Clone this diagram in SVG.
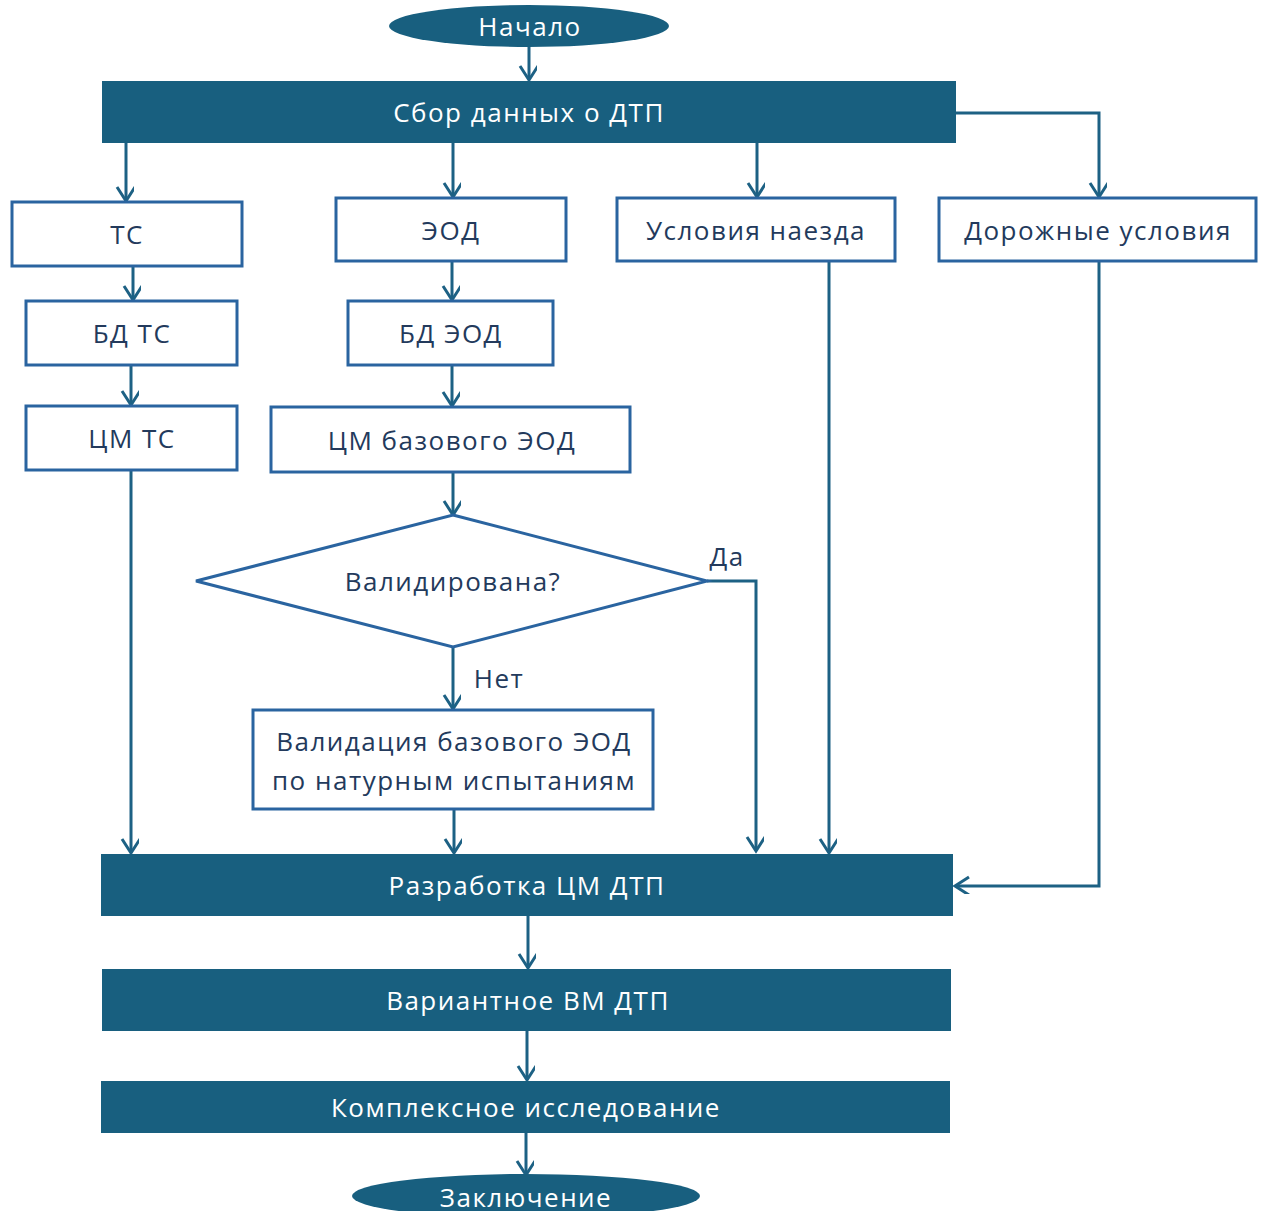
<svg xmlns="http://www.w3.org/2000/svg" width="1262" height="1211" viewBox="0 0 1262 1211">
<defs>
<marker id="ah" markerUnits="userSpaceOnUse" markerWidth="30" markerHeight="30" refX="14" refY="8" orient="auto" viewBox="0 0 30 30">
<path d="M0,-1 L14,8 L0,17" fill="none" stroke="#1d6184" stroke-width="3" transform="translate(1,0)"/>
</marker>
<style>
.dark{fill:#185f7f}
.box{fill:#fff;stroke:#2a64a0;stroke-width:3}
.wt{fill:#fff;font-family:"Open Sans","Noto Sans",sans-serif;font-size:26px;letter-spacing:1.5px;text-anchor:middle;dominant-baseline:central}
.bt{fill:#233a5c;font-family:"Open Sans","Noto Sans",sans-serif;font-size:26px;letter-spacing:1.5px;text-anchor:middle;dominant-baseline:central}
.ln{fill:none;stroke:#1d6184;stroke-width:3;marker-end:url(#ah)}
</style>
</defs>
<rect width="1262" height="1211" fill="#fff"/>
<g id="connectors">
<path class="ln" d="M529,47 V79"/>
<path class="ln" d="M126,143 V200"/>
<path class="ln" d="M453,143 V196"/>
<path class="ln" d="M757,143 V196"/>
<path class="ln" d="M956,113 H1099 V196"/>
<path class="ln" d="M133,266 V299"/>
<path class="ln" d="M131,365 V404"/>
<path class="ln" d="M131,470 V852"/>
<path class="ln" d="M452,261 V299"/>
<path class="ln" d="M452,365 V405"/>
<path class="ln" d="M453,472 V514"/>
<path class="ln" d="M707,581 H756 V850"/>
<path class="ln" d="M453,647 V708"/>
<path class="ln" d="M454,809 V852"/>
<path class="ln" d="M829,261 V852"/>
<path class="ln" d="M1099,261 V886 H956"/>
<path class="ln" d="M528,916 V967"/>
<path class="ln" d="M527,1031 V1079"/>
<path class="ln" d="M526,1133 V1174"/>
</g>
<g id="start"><ellipse class="dark" cx="529" cy="26" rx="140" ry="21"/><text class="wt" x="530" y="26">Начало</text></g>
<g id="collect"><rect class="dark" x="102" y="81" width="854" height="62"/><text class="wt" x="529" y="112">Сбор данных о ДТП</text></g>
<g id="ts"><rect class="box" x="12" y="202" width="230" height="64"/><text class="bt" x="127" y="234">ТС</text></g>
<g id="eod"><rect class="box" x="336" y="198" width="230" height="63"/><text class="bt" x="451" y="230">ЭОД</text></g>
<g id="usl"><rect class="box" x="617" y="198" width="278" height="63"/><text class="bt" x="756" y="230">Условия наезда</text></g>
<g id="road"><rect class="box" x="939" y="198" width="317" height="63"/><text class="bt" x="1098" y="230">Дорожные условия</text></g>
<g id="bdts"><rect class="box" x="26" y="301" width="211" height="64"/><text class="bt" x="132" y="333">БД ТС</text></g>
<g id="cmts"><rect class="box" x="26" y="406" width="211" height="64"/><text class="bt" x="132" y="438">ЦМ ТС</text></g>
<g id="bdeod"><rect class="box" x="348" y="301" width="205" height="64"/><text class="bt" x="451" y="333">БД ЭОД</text></g>
<g id="cmeod"><rect class="box" x="271" y="407" width="359" height="65"/><text class="bt" x="452" y="440">ЦМ базового ЭОД</text></g>
<g id="valid"><polygon class="box" points="453,515 707,581 453,647 196,581"/><text class="bt" x="453" y="581">Валидирована?</text></g>
<text class="bt" x="727" y="556">Да</text>
<text class="bt" x="499" y="678">Нет</text>
<g id="validation"><rect class="box" x="253" y="710" width="400" height="99"/><text class="bt" x="454" y="741">Валидация базового ЭОД</text><text class="bt" x="454" y="780">по натурным испытаниям</text></g>
<g id="dev"><rect class="dark" x="101" y="854" width="852" height="62"/><text class="wt" x="527" y="885">Разработка ЦМ ДТП</text></g>
<g id="var"><rect class="dark" x="102" y="969" width="849" height="62"/><text class="wt" x="528" y="1000">Вариантное ВМ ДТП</text></g>
<g id="complex"><rect class="dark" x="101" y="1081" width="849" height="52"/><text class="wt" x="526" y="1107">Комплексное исследование</text></g>
<g id="end"><ellipse class="dark" cx="526" cy="1196" rx="174" ry="22"/><text class="wt" x="526" y="1197">Заключение</text></g>
</svg>
